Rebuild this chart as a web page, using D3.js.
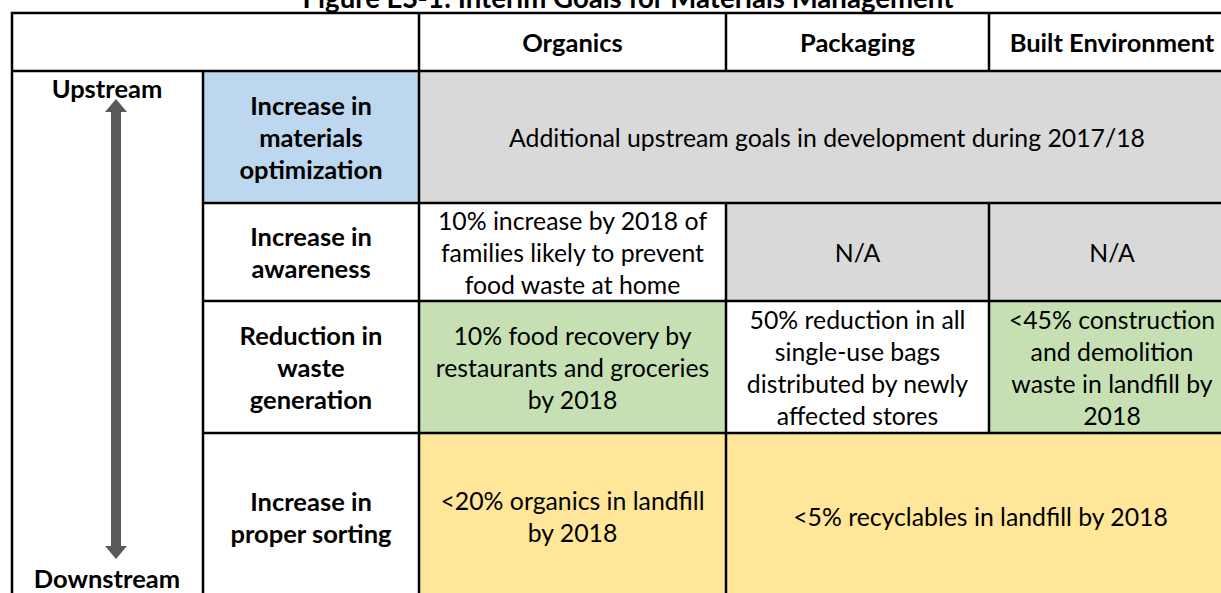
<!DOCTYPE html>
<html>
<head>
<meta charset="utf-8">
<script src="https://cdn.jsdelivr.net/npm/d3@7"></script>
<style>
  body { margin: 0; background: #fff; }
  svg { display: block; font-family: Lato, 'Open Sans', sans-serif; }
</style>
</head>
<body>
<div id="chart"></div>
<script>
// table content
const title = 'Figure ES-1: Interim Goals for Materials Management';
const materials = ['Organics', 'Packaging', 'Built Environment'];
const goals = [
  ['Increase in', 'materials', 'optimization'],
  ['Increase in', 'awareness'],
  ['Reduction in', 'waste', 'generation'],
  ['Increase in', 'proper sorting']
];
const goalFills = ['blue', 'none', 'none', 'none'];
// each goal cell: row, first material column, column span, text lines, fill
const goalCells = [
  {row: 0, col: 0, span: 3, fill: 'grey', lines: ['Additional upstream goals in development during 2017/18']},
  {row: 1, col: 0, span: 1, fill: 'none', lines: ['10% increase by 2018 of', 'families likely to prevent', 'food waste at home']},
  {row: 1, col: 1, span: 1, fill: 'grey', lines: ['N/A']},
  {row: 1, col: 2, span: 1, fill: 'grey', lines: ['N/A']},
  {row: 2, col: 0, span: 1, fill: 'green', lines: ['10% food recovery by', 'restaurants and groceries', 'by 2018']},
  {row: 2, col: 1, span: 1, fill: 'none', lines: ['50% reduction in all', 'single-use bags', 'distributed by newly', 'affected stores']},
  {row: 2, col: 2, span: 1, fill: 'green', lines: ['<45% construction', 'and demolition', 'waste in landfill by', '2018']},
  {row: 3, col: 0, span: 1, fill: 'yellow', lines: ['<20% organics in landfill', 'by 2018']},
  {row: 3, col: 1, span: 2, fill: 'yellow', lines: ['<5% recyclables in landfill by 2018']}
];
const streamEnds = ['Upstream', 'Downstream'];

// layout
const W = 1221, H = 593;
const colEdges = [12, 203, 419, 726, 989, 1235];   // arrow col, goal col, 3 materials
const rowEdges = [13, 71, 203, 301, 433, 600];     // header + 4 goal rows
const lineH = 32;
const BOLD = 25.5, NORMAL = 24.8;
const fills = {blue: '#BDD7EE', grey: '#D9D9D9', green: '#C6E0B4', yellow: '#FFE699', none: '#FFFFFF'};

const svg = d3.select('#chart').append('svg')
  .attr('width', W)
  .attr('height', H);

const x = i => colEdges[i];
const y = i => rowEdges[i];

function writeLines(g, lines, cx, cy, size, weight) {
  const first = cy - (lines.length - 1) * lineH / 2;
  g.selectAll(null)
    .data(lines)
    .enter().append('text')
    .attr('x', cx)
    .attr('y', (d, i) => first + i * lineH)
    .attr('text-anchor', 'middle')
    .attr('dominant-baseline', 'central')
    .style('font-size', size + 'px')
    .style('font-weight', weight)
    .style('fill', '#000')
    .text(d => d);
}

// title (sits partly above the visible area, as in the source)
svg.append('text')
  .attr('x', 628)
  .attr('y', 8)
  .attr('text-anchor', 'middle')
  .style('font-size', '27.6px')
  .style('font-weight', 'bold')
  .text(title);

// cell backgrounds
const bg = svg.append('g').attr('class', 'backgrounds');
bg.selectAll('rect.goal')
  .data(goals)
  .enter().append('rect')
  .attr('x', x(1))
  .attr('y', (d, i) => y(i + 1))
  .attr('width', x(2) - x(1))
  .attr('height', (d, i) => y(i + 2) - y(i + 1))
  .style('fill', (d, i) => fills[goalFills[i]]);

bg.selectAll('rect.cell')
  .data(goalCells)
  .enter().append('rect')
  .attr('x', d => x(d.col + 2))
  .attr('y', d => y(d.row + 1))
  .attr('width', d => x(d.col + 2 + d.span) - x(d.col + 2))
  .attr('height', d => y(d.row + 2) - y(d.row + 1))
  .style('fill', d => fills[d.fill]);

// text
const txt = svg.append('g').attr('class', 'labels');
materials.forEach((m, i) => {
  writeLines(txt, [m], (x(i + 2) + x(i + 3)) / 2, (y(0) + y(1)) / 2, BOLD, 'bold');
});
goals.forEach((lines, i) => {
  writeLines(txt, lines, (x(1) + x(2)) / 2, (y(i + 1) + y(i + 2)) / 2, BOLD, 'bold');
});
goalCells.forEach(d => {
  const cx = (x(d.col + 2) + x(d.col + 2 + d.span)) / 2;
  writeLines(txt, d.lines, cx, (y(d.row + 1) + y(d.row + 2)) / 2, NORMAL, 'normal');
});

// upstream / downstream arrow
const arrowX = 116;
writeLines(txt, [streamEnds[0]], 107, 88, BOLD, 'bold');
writeLines(txt, [streamEnds[1]], 107, 578, BOLD, 'bold');
const arrowTop = 99, arrowBottom = 559, shaft = 5, head = 11, headH = 13;
svg.append('path')
  .attr('d', d3.line()([
    [arrowX, arrowTop], [arrowX + head, arrowTop + headH], [arrowX + shaft, arrowTop + headH],
    [arrowX + shaft, arrowBottom - headH], [arrowX + head, arrowBottom - headH], [arrowX, arrowBottom],
    [arrowX - head, arrowBottom - headH], [arrowX - shaft, arrowBottom - headH],
    [arrowX - shaft, arrowTop + headH], [arrowX - head, arrowTop + headH]
  ]) + 'Z')
  .style('fill', '#595959');

// grid lines
const grid = svg.append('g').attr('class', 'grid')
  .style('stroke', '#000').style('stroke-width', 2.5).style('fill', 'none');
// outer frame
grid.append('rect')
  .attr('x', x(0)).attr('y', y(0))
  .attr('width', x(5) - x(0)).attr('height', y(5) - y(0));
// header bottom
grid.append('line').attr('x1', x(0)).attr('x2', x(5)).attr('y1', y(1)).attr('y2', y(1));
// horizontal row lines (not through arrow column)
grid.selectAll('line.row')
  .data([2, 3, 4])
  .enter().append('line')
  .attr('x1', x(1)).attr('x2', x(5))
  .attr('y1', d => y(d)).attr('y2', d => y(d));
// arrow column divider
grid.append('line').attr('x1', x(1)).attr('x2', x(1)).attr('y1', y(1)).attr('y2', y(5));
// goal column divider
grid.append('line').attr('x1', x(2)).attr('x2', x(2)).attr('y1', y(0)).attr('y2', y(5));
// material column dividers, broken by spanning cells
const vSegs = [];
[3, 4].forEach(c => {
  vSegs.push({c: c, r0: 0, r1: 1});
  for (let r = 0; r < goals.length; r++) {
    const spanned = goalCells.some(d => d.row === r && d.col + 2 < c && d.col + 2 + d.span > c);
    if (!spanned) vSegs.push({c: c, r0: r + 1, r1: r + 2});
  }
});
grid.selectAll('line.col')
  .data(vSegs)
  .enter().append('line')
  .attr('x1', d => x(d.c)).attr('x2', d => x(d.c))
  .attr('y1', d => y(d.r0)).attr('y2', d => y(d.r1));
</script>
</body>
</html>
